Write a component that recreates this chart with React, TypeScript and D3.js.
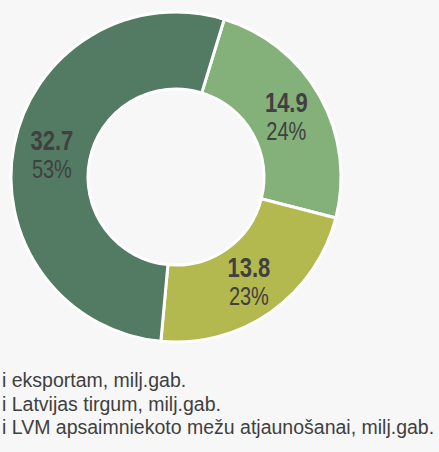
import React, { useEffect, useRef } from 'react';
import * as d3 from 'd3';

const categories = [
  'i eksportam, milj.gab.',
  'i Latvijas tirgum, milj.gab.',
  'i LVM apsaimniekoto mežu atjaunošanai, milj.gab.',
];
const values = [14.9, 13.8, 32.7];
const percentLabels = ['24%', '23%', '53%'];
const colors = ['#84b07a', '#b3b84f', '#537a63'];

const W = 439;
const H = 452;

function App() {
  const ref = useRef<SVGSVGElement>(null);

  useEffect(() => {
    const svg = d3.select(ref.current);
    svg.selectAll('*').remove();

    svg.append('rect').attr('width', W).attr('height', H).attr('fill', '#f7f7f7');

    const cx = 176;
    const cy = 177;
    const outer = 165;
    const inner = 88;
    const start = (17 * Math.PI) / 180;

    const pie = d3.pie<number>().sort(null).value(d => d)
      .startAngle(start).endAngle(start + 2 * Math.PI);
    const arc = d3.arc<d3.PieArcDatum<number>>().innerRadius(inner).outerRadius(outer);

    const g = svg.append('g').attr('transform', `translate(${cx},${cy})`);
    const arcs = pie(values);

    g.selectAll('path')
      .data(arcs)
      .enter()
      .append('path')
      .attr('d', arc)
      .attr('fill', (d, i) => colors[i])
      .attr('stroke', '#ffffff')
      .attr('stroke-width', 3);

    const font = '"Liberation Sans", Arial, sans-serif';

    // labels look like a narrow face, so squeeze Liberation Sans a bit
    arcs.forEach((d, i) => {
      const [x, y] = arc.centroid(d);
      g.append('text')
        .attr('transform', `translate(${x},${y - 3}) scale(0.8,1)`)
        .attr('text-anchor', 'middle')
        .attr('font-family', font)
        .attr('font-weight', 'bold')
        .attr('font-size', 27.5)
        .attr('fill', '#404040')
        .text(values[i].toFixed(1));
      g.append('text')
        .attr('transform', `translate(${x},${y + 25}) scale(0.8,1)`)
        .attr('text-anchor', 'middle')
        .attr('font-family', font)
        .attr('font-size', 25)
        .attr('fill', '#404040')
        .text(percentLabels[i]);
    });

    svg.selectAll('text.legend')
      .data(categories)
      .enter()
      .append('text')
      .attr('class', 'legend')
      .attr('x', 2)
      .attr('y', (d, i) => 387 + i * 23.5)
      .attr('font-family', font)
      .attr('font-size', 19.5)
      .attr('fill', '#404040')
      .text(d => d);
  }, []);

  return (
    <svg ref={ref} width={W} height={H} style={{ position: 'absolute', left: 0, top: 0 }} />
  );
}

export default App;
